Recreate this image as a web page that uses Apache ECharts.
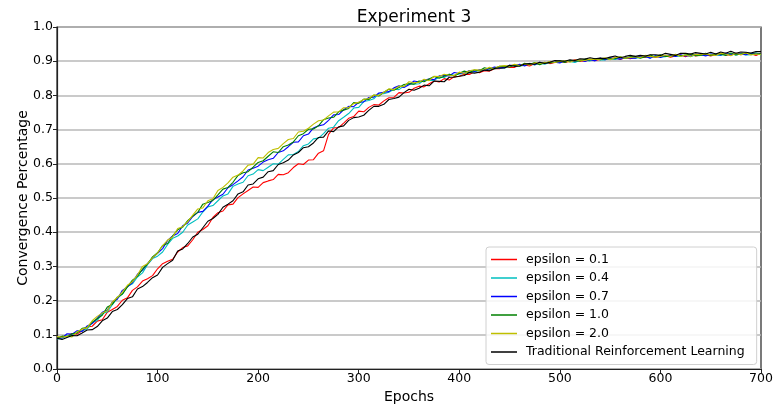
<!DOCTYPE html>
<html>
<head>
<meta charset="utf-8">
<script src="https://cdn.jsdelivr.net/npm/echarts@6/dist/echarts.min.js"></script>
<style>
html,body{margin:0;padding:0;background:#fff;}
#c{width:784px;height:404px;}
</style>
</head>
<body>
<div id="c"></div>
<script>
const epochs = [0,5,10,15,20,25,30,35,40,45,50,55,60,65,70,75,80,85,90,95,100,105,110,115,120,125,130,135,140,145,150,155,160,165,170,175,180,185,190,195,200,205,210,215,220,225,230,235,240,245,250,255,260,265,270,275,280,285,290,295,300,305,310,315,320,325,330,335,340,345,350,355,360,365,370,375,380,385,390,395,400,405,410,415,420,425,430,435,440,445,450,455,460,465,470,475,480,485,490,495,500,505,510,515,520,525,530,535,540,545,550,555,560,565,570,575,580,585,590,595,600,605,610,615,620,625,630,635,640,645,650,655,660,665,670,675,680,685,690,695,700];

const eps01 = [
.090,.095,.096,.104,.102,.112,.123,.125,.140,.144,.166,.174,.183,.201,.208,.230,.240,.257,.264,.273,
.293,.308,.315,.321,.342,.355,.360,.378,.400,.408,.419,.443,.457,.462,.480,.482,.501,.512,.522,.532,
.531,.545,.550,.554,.569,.568,.574,.589,.600,.598,.611,.612,.631,.638,.686,.705,.706,.719,.733,.738,
.754,.752,.765,.773,.772,.784,.793,.794,.808,.807,.809,.821,.827,.825,.834,.842,.839,.849,.845,.855,
.856,.862,.861,.869,.866,.872,.871,.878,.878,.883,.882,.882,.889,.889,.886,.893,.891,.897,.893,.896,
.899,.896,.900,.904,.900,.901,.904,.902,.905,.908,.905,.911,.905,.910,.907,.911,.911,.911,.914,.911,
.914,.916,.912,.915,.918,.913,.920,.915,.918,.919,.915,.920,.921,.918,.918,.922,.919,.922,.922,.917,
.923];

const eps04 = [
.088,.090,.098,.097,.110,.112,.117,.135,.142,.162,.167,.188,.207,.219,.241,.249,.269,.281,.305,.323,
.330,.342,.364,.382,.389,.400,.421,.430,.439,.459,.474,.478,.492,.506,.512,.534,.541,.546,.565,.570,
.583,.580,.590,.600,.599,.613,.626,.627,.636,.653,.658,.673,.675,.688,.704,.707,.726,.736,.747,.763,
.765,.782,.785,.790,.805,.805,.809,.818,.817,.827,.834,.833,.834,.845,.844,.844,.854,.852,.862,.859,
.863,.864,.869,.868,.874,.874,.880,.877,.881,.880,.885,.888,.885,.888,.894,.889,.894,.891,.897,.896,
.896,.901,.899,.896,.903,.903,.901,.907,.904,.904,.907,.905,.910,.909,.912,.909,.911,.914,.909,.916,
.912,.913,.918,.915,.914,.919,.913,.919,.917,.917,.921,.918,.917,.921,.922,.918,.921,.918,.919,.925,
.918];

const eps07 = [
.090,.091,.103,.102,.112,.110,.126,.133,.148,.166,.172,.196,.204,.230,.240,.253,.277,.289,.308,.325,
.338,.352,.376,.389,.396,.419,.427,.446,.458,.461,.476,.495,.503,.511,.530,.539,.550,.562,.582,.587,
.593,.605,.612,.616,.633,.638,.650,.663,.664,.682,.687,.705,.711,.714,.727,.743,.744,.758,.768,.767,
.780,.781,.794,.795,.807,.809,.811,.822,.828,.823,.831,.842,.839,.845,.848,.846,.857,.858,.857,.867,
.864,.865,.873,.870,.875,.873,.878,.883,.880,.882,.888,.887,.891,.886,.893,.890,.897,.893,.898,.897,
.895,.902,.899,.900,.904,.899,.905,.901,.909,.904,.910,.908,.906,.911,.909,.909,.915,.914,.909,.916,
.911,.917,.917,.914,.919,.915,.916,.920,.920,.915,.921,.920,.918,.924,.918,.923,.921,.919,.923,.921,
.921];

const eps10 = [
.090,.096,.094,.103,.105,.119,.121,.137,.147,.157,.181,.189,.210,.219,.240,.260,.271,.292,.307,.328,
.340,.361,.367,.389,.407,.415,.434,.447,.458,.482,.487,.493,.509,.526,.531,.546,.566,.574,.577,.590,
.604,.609,.622,.635,.633,.650,.655,.664,.682,.688,.701,.702,.711,.729,.734,.736,.752,.757,.762,.779,
.777,.789,.788,.801,.798,.809,.818,.815,.823,.832,.834,.833,.842,.840,.848,.855,.850,.856,.862,.857,
.865,.871,.866,.874,.872,.881,.877,.879,.885,.885,.883,.889,.886,.894,.890,.896,.890,.896,.895,.897,
.901,.896,.902,.901,.901,.906,.904,.907,.904,.907,.907,.907,.913,.908,.913,.914,.909,.913,.918,.912,
.919,.914,.914,.918,.916,.918,.921,.916,.917,.923,.917,.921,.921,.917,.924,.918,.921,.924,.921,.921,
.922];

const eps20 = [
.095,.093,.096,.094,.109,.116,.121,.141,.154,.164,.170,.196,.209,.225,.245,.255,.275,.300,.308,.325,
.339,.361,.377,.386,.411,.416,.431,.450,.468,.471,.492,.498,.522,.531,.544,.561,.567,.579,.596,.599,
.618,.617,.633,.642,.645,.659,.671,.674,.693,.695,.704,.716,.726,.728,.740,.751,.752,.764,.764,.776,
.780,.788,.791,.801,.800,.809,.819,.817,.827,.826,.840,.837,.838,.847,.843,.856,.855,.862,.859,.858,
.868,.864,.872,.875,.874,.875,.882,.878,.885,.887,.886,.891,.887,.892,.889,.895,.894,.895,.899,.896,
.899,.902,.897,.903,.904,.902,.906,.905,.906,.910,.904,.911,.912,.909,.911,.913,.911,.917,.914,.912,
.914,.918,.914,.920,.914,.919,.914,.920,.919,.921,.919,.917,.923,.922,.916,.923,.919,.925,.918,.921,
.919];

const traditional = [
.090,.086,.092,.098,.097,.105,.114,.115,.124,.141,.149,.168,.174,.188,.206,.211,.234,.241,.253,.267,
.275,.297,.308,.318,.345,.351,.367,.386,.394,.413,.432,.440,.452,.473,.482,.492,.512,.518,.538,.541,
.556,.561,.577,.580,.598,.603,.611,.626,.633,.647,.650,.661,.677,.678,.696,.694,.708,.711,.727,.735,
.737,.742,.756,.768,.768,.774,.788,.791,.795,.808,.818,.815,.821,.830,.828,.842,.841,.840,.853,.853,
.856,.858,.867,.865,.868,.874,.872,.879,.880,.880,.888,.885,.886,.892,.893,.891,.897,.893,.897,.902,
.901,.900,.904,.902,.907,.906,.910,.907,.909,.908,.912,.915,.910,.914,.917,.914,.917,.915,.919,.919,
.917,.923,.920,.917,.923,.923,.921,.925,.923,.921,.926,.921,.927,.923,.929,.923,.927,.926,.924,.928,
.928];

const seriesNames = ['epsilon = 0.1','epsilon = 0.4','epsilon = 0.7','epsilon = 1.0','epsilon = 2.0','Traditional Reinforcement Learning'];
const seriesValues = [eps01, eps04, eps07, eps10, eps20, traditional];
const seriesColors = ['#ff0000','#00bfbf','#0000ff','#008000','#bfbf00','#000000'];
const xTicks = [0,100,200,300,400,500,600,700];
const yTicks = [0,0.1,0.2,0.3,0.4,0.5,0.6,0.7,0.8,0.9,1.0];

const FONT = 'DejaVu Sans';
const chart = echarts.init(document.getElementById('c'), null, {renderer:'canvas'});
chart.setOption({
  animation: false,
  backgroundColor: '#fff',
  title: {
    text: 'Experiment 3',
    left: 409, top: 4, textAlign: 'center',
    textStyle: {fontFamily: FONT, fontSize: 17, fontWeight: 'normal', color: '#000'}
  },
  grid: {left: 57, right: 23, top: 27, bottom: 35, show: true, borderColor: '#222', borderWidth: 1.2,
         containLabel: false, outerBoundsMode: 'none'},
  legend: {
    orient: 'vertical',
    left: 486, top: 247,
    icon: 'rect',
    itemWidth: 26, itemHeight: 1.5,
    itemGap: 3.5,
    padding: [5, 12, 5, 5],
    backgroundColor: 'rgba(255,255,255,0.85)',
    borderColor: '#d0d0d0', borderWidth: 1, borderRadius: 3,
    textStyle: {fontFamily: FONT, fontSize: 12.5, color: '#000', padding: [0,0,0,4], lineHeight: 15},
    data: seriesNames
  },
  xAxis: {
    type: 'value', min: 0, max: 700, interval: 100,
    name: 'Epochs', nameLocation: 'middle', nameGap: 18,
    nameTextStyle: {fontFamily: FONT, fontSize: 14, color: '#000'},
    axisLine: {show: true, lineStyle: {color: '#222', width: 1.2}},
    axisTick: {show: true, length: 4, lineStyle: {color: '#222'}},
    axisLabel: {fontFamily: FONT, fontSize: 12.5, color: '#000', margin: 3},
    splitLine: {show: false}
  },
  yAxis: {
    type: 'value', min: 0, max: 1, interval: 0.1,
    name: 'Convergence Percentage', nameLocation: 'middle', nameGap: 27, nameMoveOverlap: false,
    nameTextStyle: {fontFamily: FONT, fontSize: 14, color: '#000'},
    axisLine: {show: true, lineStyle: {color: '#222', width: 1.2}},
    axisTick: {show: true, length: 4, lineStyle: {color: '#222'}},
    axisLabel: {fontFamily: FONT, fontSize: 12.5, color: '#000', margin: 4,
      formatter: v => v.toFixed(1)},
    splitLine: {show: true, lineStyle: {color: '#b8b8b8', width: 1.5}}
  },
  series: seriesNames.map((name, i) => ({
    name: name,
    type: 'line',
    data: epochs.map((e, j) => [e, seriesValues[i][j]]),
    showSymbol: false, symbol: 'none',
    color: seriesColors[i],
    lineStyle: {width: 1.1, color: seriesColors[i]},
    z: 2 + i
  }))
});
</script>
</body>
</html>
